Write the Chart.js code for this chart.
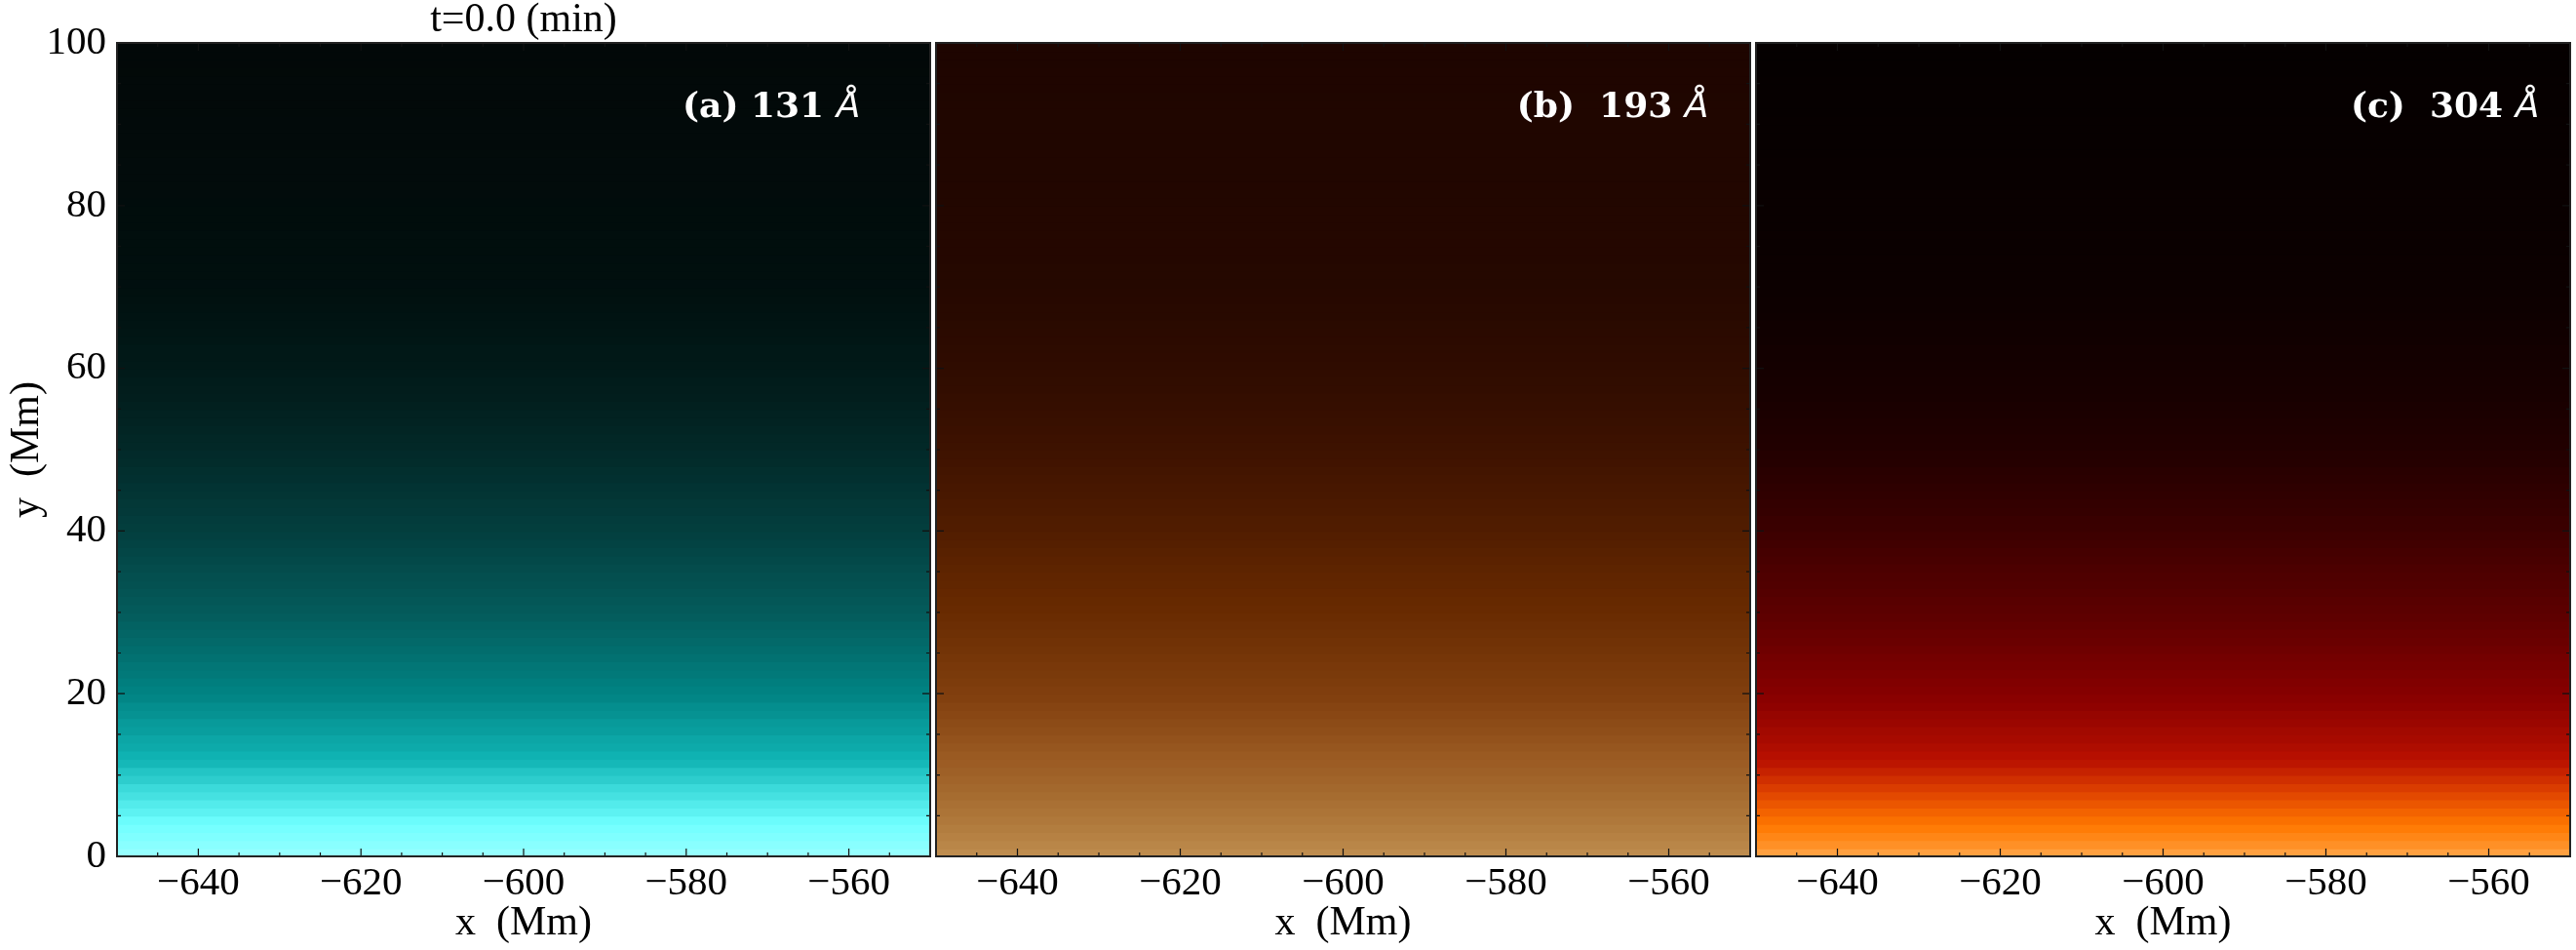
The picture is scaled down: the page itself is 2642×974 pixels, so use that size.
<!DOCTYPE html>
<html>
<head>
<meta charset="utf-8">
<script src="https://cdn.jsdelivr.net/npm/chart.js@4.4.0/dist/chart.umd.min.js"></script>
<style>
  html, body { margin: 0; padding: 0; background: #fff; }
  body { width: 2642px; height: 974px; position: relative; overflow: hidden; }
  .panel { position: absolute; top: 0; height: 974px; }
  .panel canvas { display: block; }
</style>
</head>
<body>
<div class="panel" style="left:0;width:957px"><canvas id="chartA"></canvas></div>
<div class="panel" style="left:957px;width:841px"><canvas id="chartB"></canvas></div>
<div class="panel" style="left:1798px;width:844px"><canvas id="chartC"></canvas></div>
<script>
"use strict"

// band centres (Mm), each band is 1 Mm tall
const HEIGHTS = [0.5, 1.5, 2.5, 3.5, 4.5, 5.5, 6.5, 7.5, 8.5, 9.5,
    10.5, 11.5, 12.5, 13.5, 14.5, 15.5, 16.5, 17.5, 18.5, 19.5,
    20.5, 21.5, 22.5, 23.5, 24.5, 25.5, 26.5, 27.5, 28.5, 29.5,
    30.5, 31.5, 32.5, 33.5, 34.5, 35.5, 36.5, 37.5, 38.5, 39.5,
    40.5, 41.5, 42.5, 43.5, 44.5, 45.5, 46.5, 47.5, 48.5, 49.5,
    50.5, 51.5, 52.5, 53.5, 54.5, 55.5, 56.5, 57.5, 58.5, 59.5,
    60.5, 61.5, 62.5, 63.5, 64.5, 65.5, 66.5, 67.5, 68.5, 69.5,
    70.5, 71.5, 72.5, 73.5, 74.5, 75.5, 76.5, 77.5, 78.5, 79.5,
    80.5, 81.5, 82.5, 83.5, 84.5, 85.5, 86.5, 87.5, 88.5, 89.5,
    90.5, 91.5, 92.5, 93.5, 94.5, 95.5, 96.5, 97.5, 98.5, 99.5]
const X_RANGE = [-650, -550]
const X_TICK_LABELS = [-640, -620, -600, -580, -560]
const Y_TICK_LABELS = [0, 20, 40, 60, 80, 100]

// normalised intensity per band (bottom -> top)
const INTENSITY_131 = [1.0, 0.965, 0.94, 0.915, 0.89, 0.86, 0.84, 0.81, 0.79, 0.76,
    0.74, 0.71, 0.695, 0.68, 0.67, 0.655, 0.645, 0.63, 0.62, 0.605,
    0.595, 0.58, 0.565, 0.555, 0.54, 0.525, 0.515, 0.5, 0.49, 0.475,
    0.465, 0.455, 0.445, 0.435, 0.43, 0.42, 0.41, 0.4, 0.39, 0.38,
    0.37, 0.365, 0.355, 0.35, 0.34, 0.335, 0.325, 0.32, 0.31, 0.305,
    0.295, 0.285, 0.275, 0.265, 0.255, 0.245, 0.235, 0.225, 0.22, 0.21,
    0.205, 0.2, 0.195, 0.185, 0.18, 0.175, 0.165, 0.16, 0.155, 0.15,
    0.14, 0.135, 0.13, 0.12, 0.115, 0.11, 0.105, 0.095, 0.09, 0.085,
    0.08, 0.075, 0.07, 0.065, 0.06, 0.055, 0.05, 0.045, 0.04, 0.04,
    0.035, 0.03, 0.025, 0.02, 0.02, 0.015, 0.01, 0.005, 0.005, 0.0]
const INTENSITY_193 = [1.0, 0.965, 0.94, 0.915, 0.89, 0.865, 0.84, 0.815, 0.79, 0.765,
    0.74, 0.715, 0.7, 0.685, 0.67, 0.655, 0.645, 0.63, 0.62, 0.605,
    0.595, 0.58, 0.565, 0.555, 0.54, 0.525, 0.515, 0.5, 0.49, 0.475,
    0.465, 0.455, 0.445, 0.435, 0.43, 0.42, 0.41, 0.4, 0.39, 0.38,
    0.37, 0.365, 0.355, 0.35, 0.34, 0.335, 0.325, 0.32, 0.31, 0.305,
    0.295, 0.285, 0.275, 0.265, 0.255, 0.245, 0.235, 0.225, 0.22, 0.21,
    0.205, 0.2, 0.195, 0.185, 0.18, 0.175, 0.165, 0.16, 0.155, 0.15,
    0.14, 0.135, 0.13, 0.12, 0.115, 0.11, 0.105, 0.1, 0.09, 0.085,
    0.08, 0.075, 0.07, 0.065, 0.06, 0.055, 0.05, 0.045, 0.045, 0.04,
    0.035, 0.03, 0.03, 0.025, 0.02, 0.015, 0.01, 0.005, 0.005, 0.0]
const INTENSITY_304 = [1.0, 0.96, 0.935, 0.91, 0.885, 0.86, 0.835, 0.81, 0.785, 0.76,
    0.735, 0.71, 0.695, 0.68, 0.665, 0.655, 0.64, 0.63, 0.615, 0.605,
    0.59, 0.58, 0.565, 0.55, 0.54, 0.525, 0.51, 0.5, 0.485, 0.475,
    0.465, 0.455, 0.445, 0.435, 0.43, 0.42, 0.41, 0.4, 0.39, 0.38,
    0.37, 0.365, 0.355, 0.35, 0.34, 0.335, 0.325, 0.32, 0.31, 0.305,
    0.295, 0.285, 0.275, 0.265, 0.255, 0.245, 0.235, 0.225, 0.22, 0.21,
    0.205, 0.2, 0.195, 0.185, 0.18, 0.175, 0.165, 0.16, 0.155, 0.15,
    0.14, 0.135, 0.13, 0.12, 0.115, 0.11, 0.105, 0.095, 0.09, 0.085,
    0.08, 0.075, 0.07, 0.065, 0.06, 0.055, 0.05, 0.045, 0.04, 0.04,
    0.035, 0.03, 0.025, 0.02, 0.02, 0.015, 0.01, 0.005, 0.005, 0.0]

const PANEL_LABELS = ['(a) 131', '(b)  193', '(c)  304']

// colour tables, [t, r, g, b]
const CMAP_131 = [[0, 2, 8, 8], [0.15, 1, 16, 15], [0.3, 2, 41, 40], [0.45, 4, 85, 85], [0.6, 1, 132, 132],
    [0.7, 16, 180, 180], [0.8, 64, 222, 222], [0.9, 112, 255, 255], [1, 150, 255, 255]]
const CMAP_193 = [[0, 30, 5, 0], [0.15, 38, 8, 0], [0.3, 62, 18, 0], [0.45, 101, 40, 0], [0.6, 129, 63, 14],
    [0.7, 154, 90, 34], [0.8, 164, 106, 46], [0.9, 176, 122, 60], [1, 190, 140, 78]]
const CMAP_304 = [[0, 5, 0, 0], [0.15, 12, 0, 0], [0.3, 34, 0, 0], [0.45, 86, 0, 0], [0.6, 136, 0, 0],
    [0.7, 184, 16, 0], [0.8, 224, 68, 0], [0.9, 255, 120, 0], [1, 255, 160, 64]]

function colormap(stops, t) {
    for (let i = 1; i < stops.length; i++) {
        if (t <= stops[i][0] || i === stops.length - 1) {
            const [t0, ...c0] = stops[i - 1]
            const [t1, ...c1] = stops[i]
            const f = Math.min(1, Math.max(0, (t - t0) / (t1 - t0)))
            return `rgb(${c0.map((c, k) => Math.round(c + f * (c1[k] - c))).join(',')})`
        }
    }
}

const SERIF = '"Liberation Serif", "Times New Roman", serif'

function minus(v) {
    return v < 0 ? '\u2212' + Math.abs(v) : String(v)
}

// frame, inward tick marks and the white panel label
const panelDecor = {
    id: 'panelDecor',
    afterDatasetsDraw(chart, args, opts) {
        const { ctx, chartArea: a, scales: { x, y } } = chart
        ctx.save()
        ctx.strokeStyle = '#111'
        ctx.lineWidth = 1.2
        ctx.beginPath()
        x.ticks.forEach(t => {
            const px = x.getPixelForValue(t.value)
            const len = t.value % 20 === 0 ? 8 : 4
            ctx.moveTo(px, a.bottom); ctx.lineTo(px, a.bottom - len)
            ctx.moveTo(px, a.top); ctx.lineTo(px, a.top + len)
        })
        y.ticks.forEach(t => {
            const py = y.getPixelForValue(t.value)
            const len = t.value % 20 === 0 ? 8 : 4
            ctx.moveTo(a.left, py); ctx.lineTo(a.left + len, py)
            ctx.moveTo(a.right, py); ctx.lineTo(a.right - len, py)
        })
        ctx.stroke()

        ctx.strokeStyle = '#222'
        ctx.lineWidth = 2
        ctx.strokeRect(a.left, a.top, a.width, a.height)

        const lx = x.getPixelForValue(opts.labelX)
        const ly = y.getPixelForValue(opts.labelY)
        ctx.fillStyle = '#fff'
        ctx.textBaseline = 'middle'
        ctx.textAlign = 'right'
        ctx.font = 'italic 36px "DejaVu Sans"'
        const wA = ctx.measureText('\u00C5').width
        ctx.fillText('\u00C5', lx, ly)
        ctx.font = 'bold 36px "DejaVu Serif"'
        ctx.fillText(opts.text + ' ', lx - wA, ly)
        ctx.restore()
    }
}

function makePanel(canvasId, intensity, cmap, label, labelX, first, padding) {
    const ctx = document.getElementById(canvasId).getContext('2d')
    return new Chart(ctx, {
        type: 'bar',
        data: {
            datasets: [{
                data: HEIGHTS.map(h => ({ x: X_RANGE.slice(), y: h })),
                backgroundColor: intensity.map(v => colormap(cmap, v)),
                borderWidth: 0,
                barPercentage: 1,
                categoryPercentage: 1,
                inflateAmount: 1,
                grouped: false,
            }]
        },
        options: {
            indexAxis: 'y',
            responsive: true,
            maintainAspectRatio: false,
            animation: false,
            layout: { padding: padding },
            scales: {
                x: {
                    type: 'linear',
                    min: X_RANGE[0],
                    max: X_RANGE[1],
                    offset: false,
                    grid: { display: false, offset: false },
                    border: { display: false },
                    ticks: {
                        stepSize: 5,
                        autoSkip: false,
                        maxRotation: 0,
                        padding: 0,
                        color: '#000',
                        font: { family: SERIF, size: 41, lineHeight: 1 },
                        callback: v => X_TICK_LABELS.includes(v) ? minus(v) : ''
                    },
                    title: {
                        display: true,
                        text: 'x  (Mm)',
                        color: '#000',
                        font: { family: SERIF, size: 42, lineHeight: 1 },
                        padding: { top: 0, bottom: 6 }
                    },
                    afterFit: scale => { scale.height = 96 }
                },
                y: {
                    type: 'linear',
                    min: 0,
                    max: 100,
                    offset: false,
                    grid: { display: false, offset: false },
                    border: { display: false },
                    ticks: {
                        display: first,
                        stepSize: 5,
                        autoSkip: false,
                        padding: 3,
                        color: '#000',
                        font: { family: SERIF, size: 41, lineHeight: 1 },
                        callback: v => Y_TICK_LABELS.includes(v) ? String(v) : ''
                    },
                    title: {
                        display: first,
                        text: 'y  (Mm)',
                        color: '#000',
                        font: { family: SERIF, size: 42, lineHeight: 1 },
                        padding: { top: 7, bottom: 0 }
                    },
                    afterFit: scale => { scale.width = first ? 120 : 0 }
                }
            },
            plugins: {
                legend: { display: false },
                tooltip: { enabled: false },
                title: {
                    display: first,
                    text: 't=0.0 (min)',
                    color: '#000',
                    fullSize: false,
                    font: { family: SERIF, size: 42, weight: 'normal', lineHeight: 1 },
                    padding: { top: 0, bottom: 2 }
                },
                panelDecor: { text: label, labelX: labelX, labelY: 92 }
            }
        },
        plugins: [panelDecor]
    })
}

makePanel('chartA', INTENSITY_131, CMAP_131, PANEL_LABELS[0], -558.6, true, { top: 0, right: 3, left: 0, bottom: 0 })
makePanel('chartB', INTENSITY_193, CMAP_193, PANEL_LABELS[1], -555.1, false, { top: 44, right: 3, left: 3, bottom: 0 })
makePanel('chartC', INTENSITY_304, CMAP_304, PANEL_LABELS[2], -553.8, false, { top: 44, right: 6, left: 3, bottom: 0 })
</script>
</body>
</html>
